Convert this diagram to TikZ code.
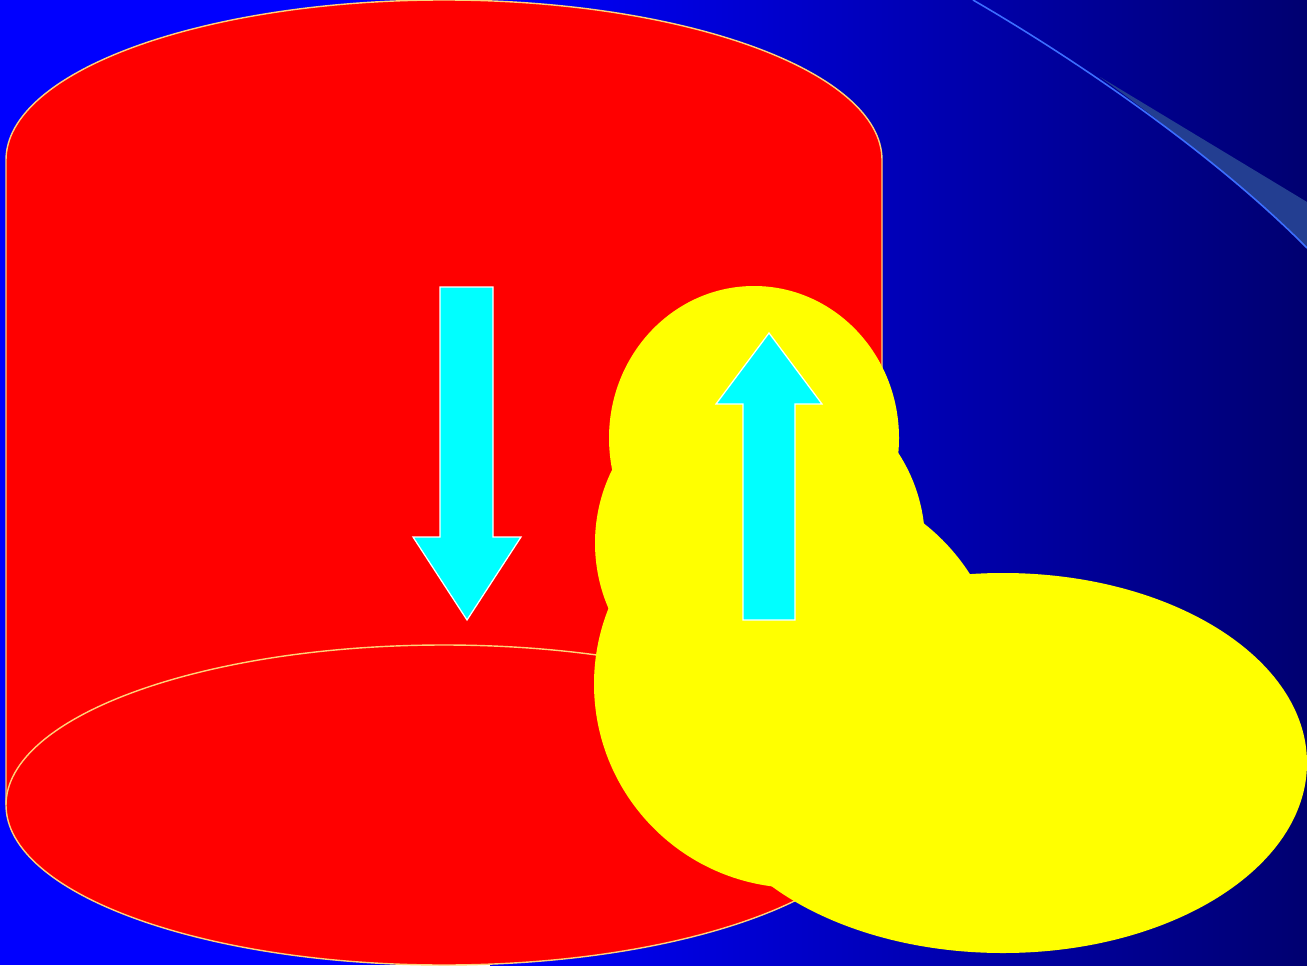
\documentclass[tikz,border=0pt]{standalone}
\usetikzlibrary{shapes.geometric}
\definecolor{bgblue}{RGB}{0,0,255}
\definecolor{bgnavy}{RGB}{0,0,112}
\definecolor{rimcol}{RGB}{255,210,120}
\definecolor{arccol}{RGB}{60,110,255}
\definecolor{wedgecol}{RGB}{35,62,145}
\definecolor{aqua}{RGB}{0,255,255}
\definecolor{yel}{RGB}{255,255,0}
\tikzset{
  rim/.style={draw=rimcol,line width=0.8pt},
  blob/.style={fill=yel},
  arrowshape/.style={fill=aqua,draw=white,line width=0.7pt,line join=miter}
}
\begin{document}
\begin{tikzpicture}[x=0.02cm,y=0.02cm]
\useasboundingbox (0,0) rectangle (1307,965);
% background
\fill[bgblue] (0,0) rectangle (1307,965);
\shade[left color=bgblue,right color=bgnavy] (490,0) rectangle (1307,965);
% decoration top right
\fill[wedgecol] (1100,888) -- (1307,763) -- (1307,717) .. controls (1250,772) and (1180,830) .. (1100,888) -- cycle;
\draw[arccol,line width=0.9pt] (973,965) .. controls (1090,897) and (1220,805) .. (1307,717);
% cylinder
\fill[red] (6,805) arc[start angle=180,end angle=0,x radius=438,y radius=160] -- (882,160) arc[start angle=0,end angle=-180,x radius=438,y radius=160] -- cycle;
\draw[rim] (6,160) -- (6,805) arc[start angle=180,end angle=0,x radius=438,y radius=160] -- (882,160);
\draw[rim] (444,160) ellipse [x radius=438,y radius=160];
% down arrow
\draw[arrowshape] (440,678) -- (493,678) -- (493,428) -- (521,428) -- (467,345) -- (413,428) -- (440,428) -- cycle;
% yellow cloud
\fill[blob] (754,527) ellipse [x radius=145,y radius=152];
\fill[blob] (760,422) circle [radius=165];
\fill[blob] (798,281) circle [radius=204];
\fill[blob] (1003,202) ellipse [x radius=304,y radius=190];
% up arrow
\draw[arrowshape] (769,632) -- (822,561) -- (795,561) -- (795,345) -- (743,345) -- (743,561) -- (716,561) -- cycle;
\end{tikzpicture}
\end{document}
